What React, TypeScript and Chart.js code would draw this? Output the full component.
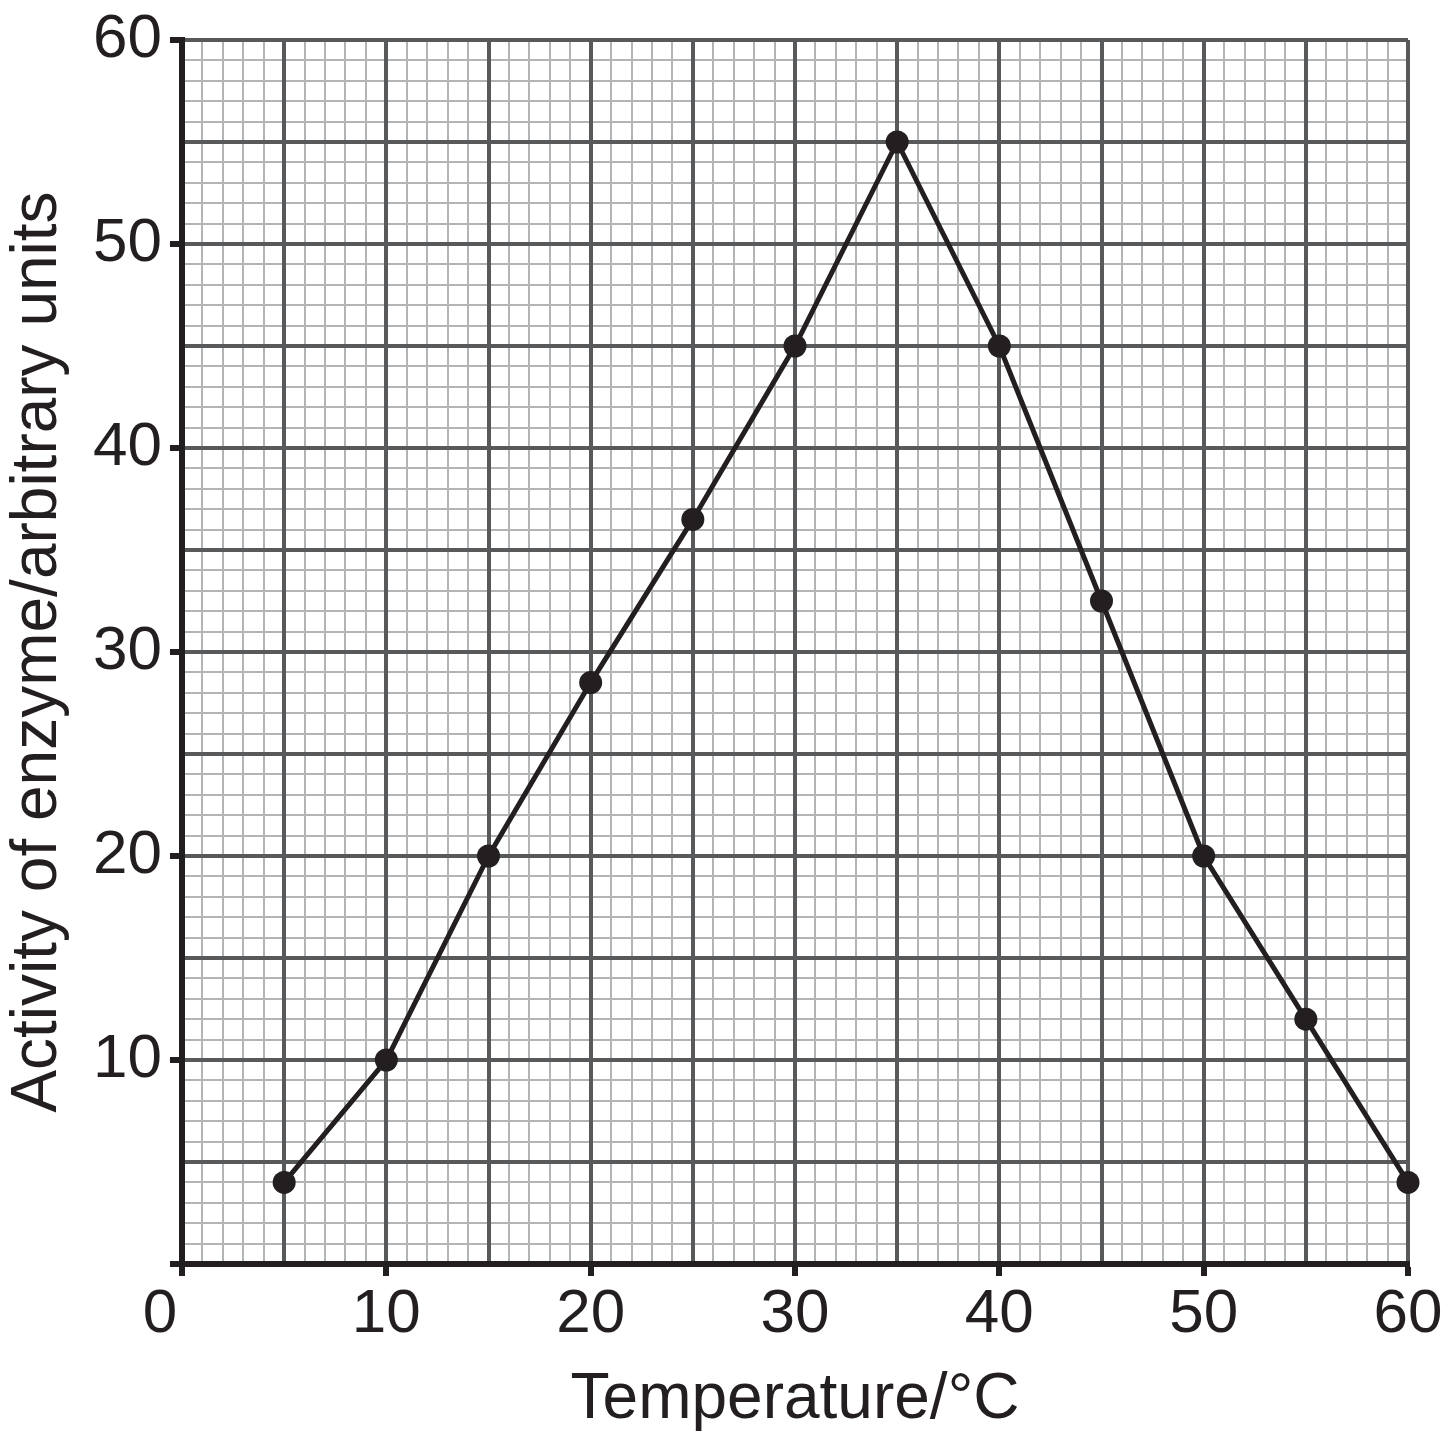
import React, { useEffect, useRef } from "react";
import { Chart, registerables } from "chart.js";

Chart.register(...registerables);

const temperatures = [5, 10, 15, 20, 25, 30, 35, 40, 45, 50, 55, 60];
const activity = [4, 10, 20, 28.5, 36.5, 45, 55, 45, 32.5, 20, 12, 4];
const xTitle = "Temperature/°C";
const yTitle = "Activity of enzyme/arbitrary units";
const axisMin = 0;
const axisMax = 60;
const minorStep = 1;
const majorStep = 5;
const labelStep = 10;

const W = 1454;
const H = 1443;
const AREA_LEFT = 182;
const AREA_RIGHT = 1408;
const AREA_TOP = 40;
const AREA_BOTTOM = 1264;

const BLACK = "#231f20";
const MAJOR = "#58595b";
const MINOR = "#b3b4b6";
const FONT = "'Liberation Sans', Arial, Helvetica, sans-serif";
const TICK_FONT = { family: FONT, size: 62, lineHeight: 1 };
const TITLE_FONT = { family: FONT, size: 64 };
const X_TICK_PAD = 8;

const zeroLabelPlugin = {
  id: "zeroLabel",
  afterDraw(chart: any) {
    const xs = chart.scales.x;
    const ctx = chart.ctx;
    ctx.save();
    ctx.font = `62px ${FONT}`;
    ctx.fillStyle = BLACK;
    ctx.textAlign = "center";
    ctx.textBaseline = "middle";
    const x = xs.getPixelForValue(0) - 22;
    const y = xs.top + 12 + X_TICK_PAD + 31;
    ctx.fillText("0", x, y);
    ctx.restore();
  },
};

export default function App() {
  const ref = useRef<HTMLCanvasElement | null>(null);

  useEffect(() => {
    if (!ref.current) return;
    const tickColor = (c: any) =>
      c.tick && c.tick.value % labelStep === 0 ? BLACK : "rgba(0,0,0,0)";
    const chart = new Chart(ref.current, {
      type: "line",
      data: {
        datasets: [
          {
            data: temperatures.map((t, i) => ({ x: t, y: activity[i] })),
            borderColor: BLACK,
            borderWidth: 5,
            pointRadius: 11.5,
            pointBackgroundColor: BLACK,
            pointBorderWidth: 0,
            tension: 0,
            clip: false as any,
          },
        ],
      },
      options: {
        responsive: false,
        animation: false,
        layout: {
          padding: { left: 0, top: AREA_TOP, right: W - AREA_RIGHT, bottom: 0 },
        },
        plugins: { legend: { display: false }, tooltip: { enabled: false } },
        scales: {
          xMinor: {
            type: "linear",
            position: "bottom",
            min: axisMin,
            max: axisMax,
            ticks: { display: false, stepSize: minorStep },
            grid: { color: MINOR, lineWidth: 2, drawTicks: false, z: -3 } as any,
            border: { display: false },
            afterFit: (s: any) => {
              s.height = 0;
            },
          },
          yMinor: {
            type: "linear",
            position: "left",
            min: axisMin,
            max: axisMax,
            ticks: { display: false, stepSize: minorStep },
            grid: { color: MINOR, lineWidth: 2, drawTicks: false, z: -3 } as any,
            border: { display: false },
            afterFit: (s: any) => {
              s.width = 0;
            },
          },
          x: {
            type: "linear",
            position: "bottom",
            min: axisMin,
            max: axisMax,
            ticks: {
              stepSize: majorStep,
              autoSkip: false,
              maxRotation: 0,
              minRotation: 0,
              font: TICK_FONT,
              color: BLACK,
              padding: X_TICK_PAD,
              callback: (v: any) =>
                v % labelStep === 0 && v !== 0 ? String(v) : "",
            },
            grid: {
              color: MAJOR,
              lineWidth: 4,
              tickColor,
              tickWidth: 6,
              tickLength: 12,
              z: -2,
            } as any,
            border: { color: BLACK, width: 6 },
            title: {
              display: true,
              text: xTitle,
              font: TITLE_FONT,
              color: BLACK,
              padding: { top: 0, bottom: 4 },
            },
            afterFit: (s: any) => {
              s.height = H - AREA_BOTTOM;
            },
          },
          y: {
            type: "linear",
            position: "left",
            min: axisMin,
            max: axisMax,
            ticks: {
              stepSize: majorStep,
              autoSkip: false,
              font: TICK_FONT,
              color: BLACK,
              padding: 8,
              callback: (v: any) =>
                v % labelStep === 0 && v !== 0 ? String(v) : "",
            },
            grid: {
              color: MAJOR,
              lineWidth: 4,
              tickColor,
              tickWidth: 6,
              tickLength: 12,
              z: -2,
            } as any,
            border: { color: BLACK, width: 6 },
            title: {
              display: true,
              text: yTitle,
              font: TITLE_FONT,
              color: BLACK,
              padding: { top: 0, bottom: 0 },
            },
            afterFit: (s: any) => {
              s.width = AREA_LEFT;
            },
          },
        },
      } as any,
      plugins: [zeroLabelPlugin],
    });
    return () => chart.destroy();
  }, []);

  return (
    <div style={{ position: "absolute", left: 0, top: 0, width: W, height: H, background: "#fff" }}>
      <canvas ref={ref} width={W} height={H} style={{ display: "block" }} />
    </div>
  );
}
